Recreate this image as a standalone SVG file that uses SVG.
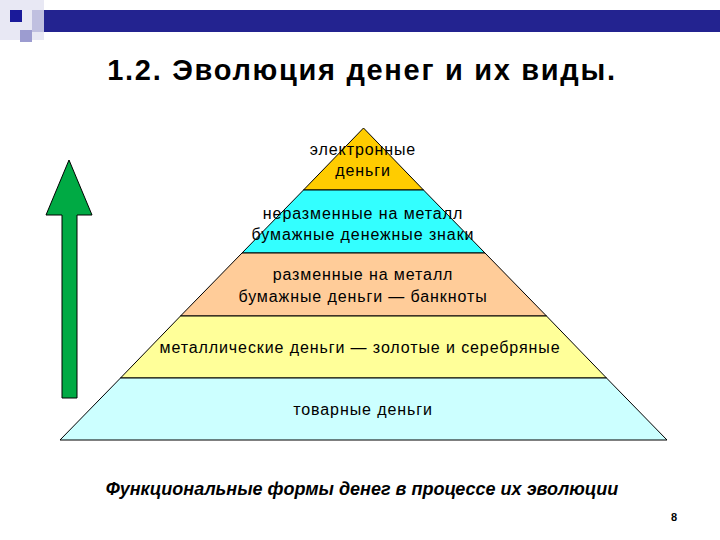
<svg xmlns="http://www.w3.org/2000/svg" width="720" height="540" viewBox="0 0 720 540">
<style>
.t{font-family:"Liberation Sans",Arial,sans-serif;font-size:16px;letter-spacing:0.9px;fill:#000;text-anchor:middle}
.lv{stroke:#000;stroke-width:1}
</style>
<rect width="720" height="540" fill="#fff"/>
<g id="decor">
<rect x="0" y="0" width="44" height="40" fill="#e8e8f4"/>
<rect x="10" y="10" width="12" height="12" fill="#1a1a9a"/>
<rect x="20" y="30" width="12" height="12" fill="#9c9cd0"/>
<rect x="32" y="10" width="20" height="22" fill="#c0c0e0"/>
<rect x="44" y="10" width="676" height="22" fill="#232390"/>
</g>
<text x="362" y="80" style="font-family:'Liberation Sans',Arial,sans-serif;font-size:29px;letter-spacing:1.7px;font-weight:bold;text-anchor:middle">1.2. Эволюция денег и их виды.</text>
<g id="arrow"><polygon points="69,160 92,215 77,215 77,398 62,398 62,215 46,215" fill="#00aa44" stroke="#000"/></g>
<g id="l1"><polygon class="lv" points="363.5,128 423.5,190 303.5,190" fill="#ffcc00"/>
<text class="t" x="363" y="155">электронные</text><text class="t" x="363" y="176">деньги</text></g>
<g id="l2"><polygon class="lv" points="303.5,190 423.5,190 485,253 242,253" fill="#33ffff"/>
<text class="t" x="363" y="219">неразменные на металл</text><text class="t" x="363" y="240">бумажные денежные знаки</text></g>
<g id="l3"><polygon class="lv" points="242,253 485,253 546.5,316 180.5,316" fill="#ffcc99"/>
<text class="t" x="363" y="280">разменные на металл</text><text class="t" x="363" y="302">бумажные деньги — банкноты</text></g>
<g id="l4"><polygon class="lv" points="180.5,316 546.5,316 606.5,378 120.5,378" fill="#ffff99"/>
<text class="t" x="360" y="353">металлические деньги — золотые и серебряные</text></g>
<g id="l5"><polygon class="lv" points="120.5,378 606.5,378 667,440 60,440" fill="#ccffff"/>
<text class="t" x="363" y="415">товарные деньги</text></g>
<text x="362" y="495" style="font-family:'Liberation Sans',Arial,sans-serif;font-size:18px;font-weight:bold;font-style:italic;text-anchor:middle">Функциональные формы денег в процессе их эволюции</text>
<text x="677" y="521" style="font-family:'Liberation Sans',Arial,sans-serif;font-size:11px;font-weight:bold;text-anchor:end">8</text>
</svg>
